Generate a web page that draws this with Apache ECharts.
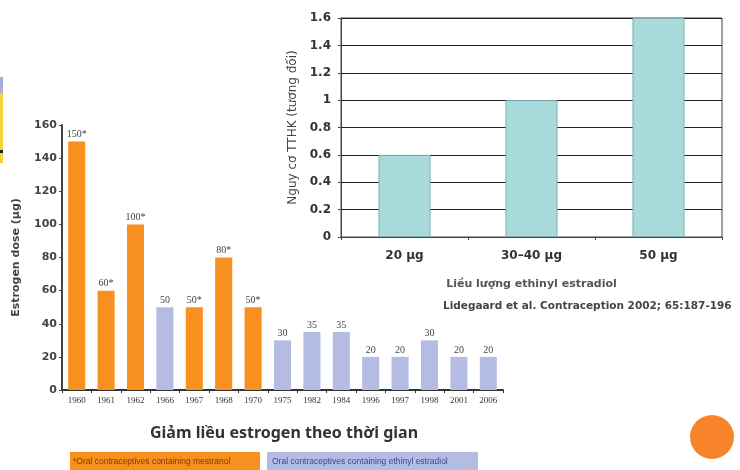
<!DOCTYPE html>
<html>
<head>
<meta charset="utf-8">
<script src="https://cdn.jsdelivr.net/npm/echarts@6/dist/echarts.min.js"></script>
<style>
  html, body { margin: 0; padding: 0; background: #fff; }
  #main { width: 740px; height: 470px; }
</style>
</head>
<body>
<div id="main"></div>
<script>
// left chart: estrogen dose by year
const years = ['1960','1961','1962','1966','1967','1968','1970','1975','1982','1984','1996','1997','1998','2001','2006'];
const doses = [150, 60, 100, 50, 50, 80, 50, 30, 35, 35, 20, 20, 30, 20, 20];
// true = mestranol (orange, marked *), false = ethinyl estradiol
const mestranol = [true, true, true, false, true, true, true, false, false, false, false, false, false, false, false];

// right chart: relative risk by ethinyl estradiol dose
const doseGroups = ['20 μg', '30–40 μg', '50 μg'];
const risks = [0.6, 1.0, 1.6];

const ORANGE = '#f7901e';
const LAVENDER = '#b5bce3';
const TEAL = '#a9dadb';

let myChart = echarts.init(document.getElementById('main'));

let doseData = doses.map((v, i) => ({
    value: v,
    itemStyle: { color: mestranol[i] ? ORANGE : LAVENDER },
    label: { formatter: v + (mestranol[i] ? '*' : '') }
}));

let option = {
    animation: false,
    backgroundColor: '#fff',
    grid: [
        { left: 62, right: 237, top: 125, bottom: 80 },
        { left: 341, right: 18, top: 18, bottom: 233, show: true, borderColor: '#444', borderWidth: 1 }
    ],
    xAxis: [
        {
            gridIndex: 0,
            type: 'category',
            data: years,
            axisLine: { lineStyle: { color: '#333', width: 2 } },
            axisTick: { show: true, length: 3, lineStyle: { color: '#333' } },
            axisLabel: { interval: 0, fontFamily: 'Liberation Serif', fontSize: 9, color: '#333', margin: 6 }
        },
        {
            gridIndex: 1,
            type: 'category',
            data: doseGroups,
            name: 'Liều lượng ethinyl estradiol',
            nameLocation: 'middle',
            nameGap: 42,
            nameTextStyle: { fontFamily: 'DejaVu Sans', fontSize: 11, fontWeight: 'bold', color: '#555' },
            axisLine: { lineStyle: { color: '#444', width: 1 } },
            axisTick: { show: true, length: 3, lineStyle: { color: '#444' } },
            axisLabel: { fontFamily: 'DejaVu Sans', fontSize: 12, fontWeight: 'bold', color: '#333', margin: 13 }
        }
    ],
    yAxis: [
        {
            gridIndex: 0,
            type: 'value',
            min: 0,
            max: 160,
            interval: 20,
            name: 'Estrogen dose (μg)',
            nameLocation: 'middle',
            nameGap: 40,
            nameTextStyle: { fontFamily: 'DejaVu Sans', fontSize: 11, fontWeight: 'bold', color: '#444' },
            axisLine: { show: true, lineStyle: { color: '#444', width: 2 } },
            axisTick: { show: true, length: 3, lineStyle: { color: '#444' } },
            splitLine: { show: false },
            axisLabel: { fontFamily: 'DejaVu Sans', fontSize: 11, fontWeight: 'bold', color: '#444', margin: 5 }
        },
        {
            gridIndex: 1,
            type: 'value',
            min: 0,
            max: 1.6,
            interval: 0.2,
            name: 'Nguy cơ TTHK (tương đối)',
            nameLocation: 'middle',
            nameGap: 42,
            nameTextStyle: { fontFamily: 'DejaVu Sans', fontSize: 12, color: '#444' },
            axisLine: { show: true, lineStyle: { color: '#444' } },
            axisTick: { show: true, length: 3, lineStyle: { color: '#444' } },
            splitLine: { show: true, lineStyle: { color: '#222', width: 1 } },
            axisLabel: { fontFamily: 'DejaVu Sans', fontSize: 12, fontWeight: 'bold', color: '#333', margin: 10 }
        }
    ],
    series: [
        {
            type: 'bar',
            xAxisIndex: 0,
            yAxisIndex: 0,
            data: doseData,
            barWidth: '58%',
            label: {
                show: true,
                position: 'top',
                distance: 2,
                fontFamily: 'Liberation Serif',
                fontSize: 10,
                color: '#444'
            }
        },
        {
            type: 'bar',
            xAxisIndex: 1,
            yAxisIndex: 1,
            data: risks,
            barWidth: '41%',
            itemStyle: { color: TEAL, borderColor: '#7fb0b2', borderWidth: 1 }
        }
    ],
    graphic: [
        // slide decoration on the left edge
        { type: 'rect', left: 0, top: 77, shape: { width: 3, height: 16 }, style: { fill: '#a6aee0' } },
        { type: 'rect', left: 0, top: 93, shape: { width: 3, height: 70 }, style: { fill: '#f4d23c' } },
        { type: 'rect', left: 0, top: 150, shape: { width: 3, height: 3 }, style: { fill: '#222' } },
        // title under the left chart
        {
            type: 'text', left: 150, top: 425,
            style: { text: 'Giảm liều estrogen theo thời gian', fontFamily: 'Noto Sans', fontSize: 16, fontWeight: 'bold', fill: '#333' }
        },
        // legend boxes
        { type: 'rect', left: 70, top: 452, shape: { width: 190, height: 18 }, style: { fill: ORANGE } },
        {
            type: 'text', left: 73, top: 457,
            style: { text: '*Oral contraceptives containing mestranol', fontFamily: 'Liberation Sans', fontSize: 8.5, fill: '#7a3d00' }
        },
        { type: 'rect', left: 267, top: 452, shape: { width: 211, height: 18 }, style: { fill: LAVENDER } },
        {
            type: 'text', left: 272, top: 457,
            style: { text: 'Oral contraceptives containing ethinyl estradiol', fontFamily: 'Liberation Sans', fontSize: 8.5, fill: '#3a4690' }
        },
        // citation
        {
            type: 'text', left: 443, top: 301,
            style: { text: 'Lidegaard et al. Contraception 2002; 65:187-196', fontFamily: 'DejaVu Sans', fontSize: 10.5, fontWeight: 'bold', fill: '#444' }
        },
        // orange dot
        { type: 'circle', shape: { cx: 712, cy: 437, r: 22 }, style: { fill: '#f7842a' } }
    ]
};
myChart.setOption(option);
</script>
</body>
</html>
